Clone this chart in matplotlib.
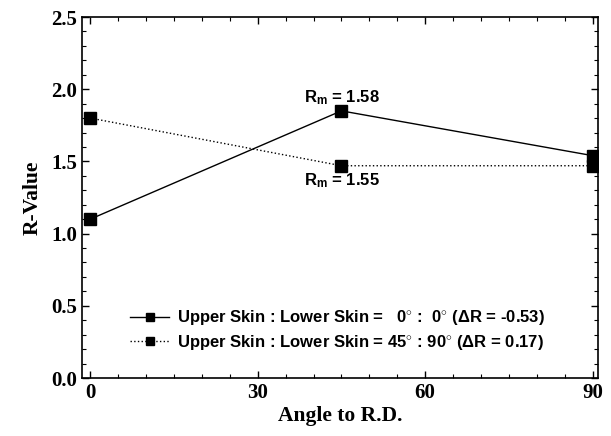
import numpy as np
import matplotlib.pyplot as plt
from matplotlib.ticker import MultipleLocator

# data
angles = [0, 45, 90]
r_same = [1.10, 1.85, 1.54]    # 0 : 0
r_cross = [1.80, 1.47, 1.47]   # 45 : 90
label_same = r'Upper Skin : Lower Skin =   0$^{\circ}$ :  0$^{\circ}$ ($\Delta$R = -0.53)'
label_cross = r'Upper Skin : Lower Skin = 45$^{\circ}$ : 90$^{\circ}$ ($\Delta$R = 0.17)'
rm_same = 'R$_{m}$ = 1.58'
rm_cross = 'R$_{m}$ = 1.55'
x_ticks = [0, 30, 60, 90]
y_ticks = [0.0, 0.5, 1.0, 1.5, 2.0, 2.5]

plt.rcParams['mathtext.fontset'] = 'custom'
plt.rcParams['mathtext.rm'] = 'Liberation Sans:bold'
plt.rcParams['mathtext.it'] = 'Liberation Sans:bold'
plt.rcParams['mathtext.bf'] = 'Liberation Sans:bold'

fig = plt.figure(figsize=(6.11, 4.36), dpi=100)
ax = fig.add_axes([0.134, 0.133, 0.845, 0.828])

ax.plot(angles, r_same, color='black', linestyle='-', linewidth=1.0,
        marker='s', markersize=8, label=label_same)
ax.plot(angles, r_cross, color='black', linestyle=':', linewidth=1.0,
        marker='s', markersize=8, label=label_cross)

sans = {'family': 'Liberation Sans', 'weight': 'bold', 'size': 12}
ax.text(45, 1.875, rm_same, ha='center', va='bottom', fontdict=sans)
ax.text(45, 1.43, rm_cross, ha='center', va='top', fontdict=sans)

ax.set_xlim(-1.5, 91)
ax.set_ylim(0, 2.5)
ax.xaxis.set_minor_locator(MultipleLocator(5))
ax.yaxis.set_minor_locator(MultipleLocator(0.1))
ax.tick_params(which='both', direction='in', top=True, right=True)
ax.tick_params(which='major', length=5, width=1)
ax.tick_params(which='minor', length=3, width=0.8)
for s in ax.spines.values():
    s.set_linewidth(1.2)

serif = {'family': 'Liberation Serif', 'weight': 'bold', 'size': 15}
ax.set_yticks(y_ticks)
ax.set_yticklabels([f'{v:.1f}' for v in y_ticks], fontdict=serif)
ax.set_xticks(x_ticks)
ax.set_xticklabels([str(v) for v in x_ticks], fontdict=serif)
lab = dict(serif, size=15.5)
ax.set_xlabel('Angle to R.D.', fontdict=lab, labelpad=2)
ax.set_ylabel('R-Value', fontdict=lab, labelpad=6)

ax.legend(loc='lower left', bbox_to_anchor=(0.065, 0.03), frameon=False,
          prop={'family': 'Liberation Sans', 'weight': 'bold', 'size': 12},
          handlelength=2.3, handletextpad=0.5, labelspacing=0.35, markerscale=0.8)

fig.savefig('out.png', dpi=100)
